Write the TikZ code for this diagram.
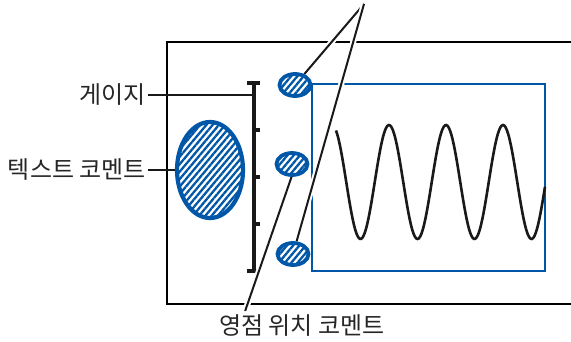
\documentclass[tikz,border=0pt]{standalone}
\usepackage{fontspec}
\setmainfont{Noto Sans CJK KR}
\usetikzlibrary{shapes.geometric, patterns.meta, calc}
\definecolor{scopeblue}{RGB}{0,87,168}
\pgfdeclarelayer{front}
\pgfsetlayers{main,front}

\begin{document}
\begin{tikzpicture}[x=1pt, y=-1pt,
    % Node styles
    callout/.style={
        font=\fontsize{24}{28}\selectfont, text=black!85, inner sep=2pt
    },
    marker/.style={
        ellipse, draw=scopeblue, line width=3.8pt, inner sep=0pt,
        minimum width=31pt, minimum height=22pt,
        preaction={fill=white},
        pattern={Lines[angle=50, distance=4.8pt, line width=2.3pt]},
        pattern color=scopeblue
    },
    bigmarker/.style={
        marker, line width=4.2pt, minimum width=66pt, minimum height=96pt
    },
    % Line styles
    frameline/.style={black, line width=1.2pt},
    gauge/.style={black!90, line width=3.2pt},
    leader/.style={black!90, line width=2.6pt},
    slant/.style={
        black!90, line width=2pt,
        preaction={draw=white, line width=6pt}
    }
]
\useasboundingbox (0,0) rectangle (571,341);

% --- Screen ---
\draw[frameline] (571,42) -- (167,42) -- (167,304) -- (571,304);
\draw[scopeblue, line width=2.6pt] (312,84) rectangle (545,271);
\draw[black!90, line width=2.6pt]
    plot[domain=336:545, samples=160, smooth] (\x, {182-57*cos(6.3158*(\x-332))});

% --- Gauge ---
\draw[gauge] (254,83) -- (254,271);
\foreach \y in {83,271}
    \draw[gauge] (247,\y) -- (260,\y);
\foreach \y in {130,177,224}
    \draw[gauge] (254,\y) -- (260,\y);
\coordinate (gbar) at (254,95);

% --- Markers ---
\begin{pgfonlayer}{front}
    \node[bigmarker] (textmark) at (210,170) {};
    \node[marker] (zero1) at (295,85) {};
    \node[marker] (zero2) at (292,164) {};
    \node[marker] (zero3) at (293,254) {};
\end{pgfonlayer}

% --- Labels ---
\node[callout, anchor=east] (gaugelabel) at (148,95) {게이지};
\node[callout, anchor=east] (textlabel) at (148,170) {텍스트 코멘트};
\node[callout] (zerolabel) at (302,326) {영점 위치 코멘트};
\coordinate (apex) at (364,4);

% --- Leaders ---
\draw[leader] (gaugelabel.east) -- (gaugelabel.east -| gbar);
\draw[leader] (textlabel.east) -- (textmark.west);
\draw[slant] (apex) -- (zero1);
\draw[slant] (apex) -- (zero3);
\draw[slant] ([xshift=4pt]zero2.center) -- ($(zerolabel.north west)+(28,-2)$);

\end{tikzpicture}
\end{document}
